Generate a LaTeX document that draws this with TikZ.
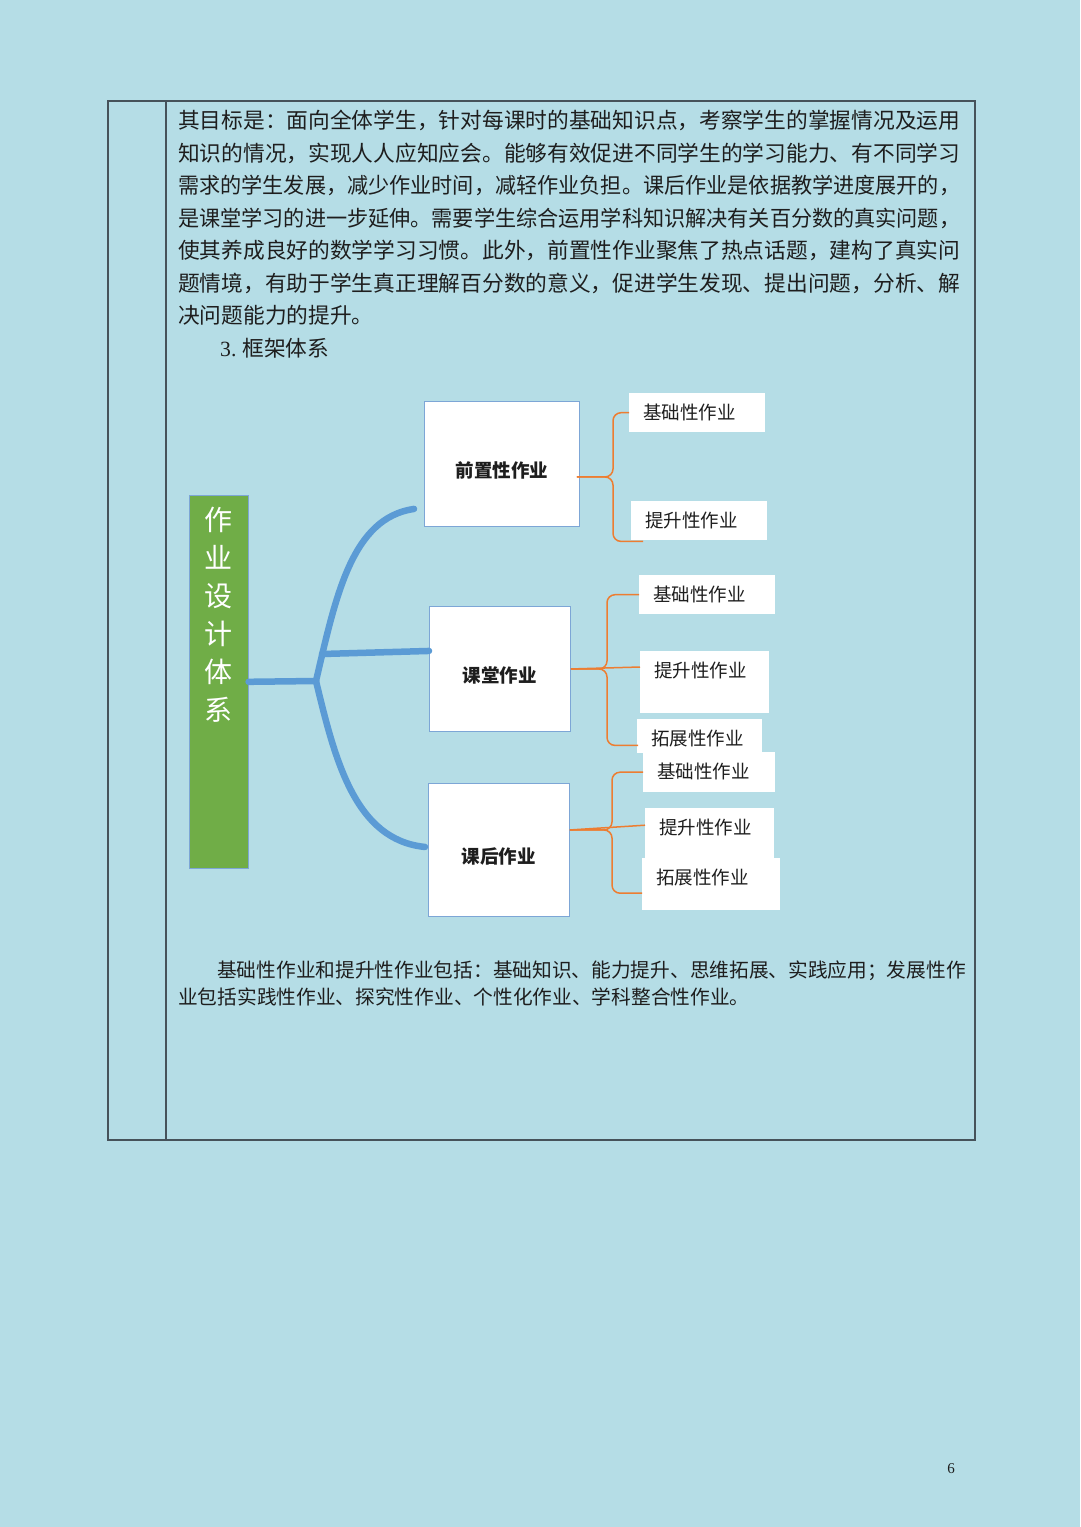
\documentclass[tikz,border=0pt]{standalone}
\usepackage{fontspec}
\setmainfont{Liberation Serif}
\newfontfamily\cjk{Noto Sans CJK SC}
\usepackage{graphicx}
\usetikzlibrary{calc}
\definecolor{pageblue}{RGB}{181,221,230}
\definecolor{rulegray}{RGB}{70,82,90}
\definecolor{inkgray}{RGB}{30,30,30}
\definecolor{rootgreen}{RGB}{112,173,71}
\definecolor{trunkblue}{RGB}{91,155,213}
\definecolor{boxblue}{RGB}{125,166,214}
\definecolor{forkorange}{RGB}{237,125,49}
\newcommand{\txtline}[3]{\node[bodytext] (#1) at (178,#2) {\resizebox{782pt}{\height}{#3}};}
\newcommand{\prong}[3]{\draw[forkline] (#1) -- (#2 |- #1) -- (#2 |- #3) -- (#3);}
\tikzset{
  bodytext/.style={anchor=west, inner sep=0pt, text=inkgray, font=\cjk\fontsize{21.7}{26}\selectfont},
  lowtext/.style={anchor=west, inner sep=0pt, text=inkgray, font=\cjk\fontsize{19.7}{24}\selectfont},
  rulebox/.style={draw=rulegray, line width=1.2pt},
  mainbox/.style={draw=boxblue, fill=white, line width=0.9pt, anchor=north west, inner sep=0pt,
    text=inkgray, font=\cjk\bfseries\fontsize{18.5}{22}\selectfont, text height=28pt, text depth=0pt},
  leaf/.style 2 args={fill=white, anchor=north west, inner xsep=14pt, inner ysep=0pt, align=left,
    text=inkgray, font=\cjk\fontsize{18.5}{22}\selectfont, text height=26pt, text width=#1, text depth=#2},
  rootbox/.style={fill=rootgreen, draw=boxblue, line width=0.6pt, anchor=north west, inner sep=0pt,
    minimum width=59pt, minimum height=373pt},
  rootlabel/.style={anchor=north, inner sep=0pt, text=white, align=center, font=\cjk\fontsize{28}{38}\selectfont},
  trunk/.style={draw=trunkblue, line width=6.5pt, line cap=round},
  forkline/.style={draw=forkorange, line width=1.5pt, rounded corners=8pt},
}
\begin{document}
\begin{tikzpicture}[x=1pt,y=-1pt]
    \fill[pageblue] (0,0) rectangle (1080,1527);

    % table frame
    \draw[rulebox] (108,101) rectangle (975,1140);
    \draw[rulebox] (166,101) -- (166,1140);

    \txtline{goal1}{120.5}{其目标是：面向全体学生，针对每课时的基础知识点，考察学生的掌握情况及运用}
    \txtline{goal2}{153}{知识的情况，实现人人应知应会。能够有效促进不同学生的学习能力、有不同学习}
    \txtline{goal3}{185.5}{需求的学生发展，减少作业时间，减轻作业负担。课后作业是依据教学进度展开的，}
    \txtline{goal4}{218}{是课堂学习的进一步延伸。需要学生综合运用学科知识解决有关百分数的真实问题，}
    \txtline{goal5}{250.5}{使其养成良好的数学学习习惯。此外，前置性作业聚焦了热点话题，建构了真实问}
    \txtline{goal6}{283}{题情境，有助于学生真正理解百分数的意义，促进学生发现、提出问题，分析、解}
    \node[bodytext] (goal7) at (178,315.5) {决问题能力的提升。};
    \node[bodytext] (heading) at (220,348) {{\rmfamily 3.}\hspace{6pt}框架体系};

    % diagram
    \node[rootbox] (root) at (189,495) {};
    \node[rootlabel] (roottitle) at ($(root.north)+(0,12)$) {作\\业\\设\\计\\体\\系};

    \node[mainbox, minimum width=155pt, minimum height=125pt] (pre) at (424,401) {前置性作业};
    \node[mainbox, minimum width=141pt, minimum height=125pt] (cls) at (429,606) {课堂作业};
    \node[mainbox, minimum width=141pt, minimum height=133pt] (post) at (428,783) {课后作业};

    \node[leaf={108pt}{13pt}] (b1) at (629,393) {基础性作业};
    \node[leaf={108pt}{13pt}] (u1) at (631,501) {提升性作业};
    \node[leaf={108pt}{13pt}] (b2) at (639,575) {基础性作业};
    \node[leaf={101pt}{36pt}] (u2) at (640,651) {提升性作业};
    \node[leaf={97pt}{8pt}] (e2) at (637,719) {拓展性作业};
    \node[leaf={104pt}{14pt}] (b3) at (643,752) {基础性作业};
    \node[leaf={101pt}{24pt}] (u3) at (645,808) {提升性作业};
    \node[leaf={110pt}{26pt}] (e3) at (642,858) {拓展性作业};

    \coordinate (J) at (316,681);
    \draw[trunk] (root.east) -- (J);
    \draw[trunk] (J) .. controls (336,595) and (352,518) .. ($(pre.south west)+(-10,-18)$);
    \coordinate (clsfork) at (322,654);
    \draw[trunk] (clsfork) -- ($(cls.west)+(0,-18)$);
    \draw[trunk] (J) .. controls (335,760) and (355,840) .. ($(post.west)+(-3,-3)$);

    % braces
    \coordinate (k1) at ($(pre.east)+(-3,13)$);
    \coordinate (s1) at (613,0);
    \coordinate (d1) at ($(u1.south west)+(12,1)$);
    \prong{k1}{s1}{b1.west}
    \prong{k1}{s1}{d1}

    \coordinate (k2) at (cls.east);
    \coordinate (s2) at (607,0);
    \coordinate (m2) at ($(u2.north west)+(0,16)$);
    \coordinate (d2) at ($(e2.south west)+(1,-8)$);
    \prong{k2}{s2}{b2.west}
    \draw[forkline] (k2) -- (m2);
    \prong{k2}{s2}{d2}

    \coordinate (k3) at ($(post.east)+(0,-20)$);
    \coordinate (s3) at (612,0);
    \coordinate (m3) at ($(u3.west)+(0,-8)$);
    \coordinate (d3) at ($(e3.west)+(0,9)$);
    \prong{k3}{s3}{b3.west}
    \draw[forkline] (k3) -- (m3);
    \prong{k3}{s3}{d3}

    \node[lowtext] (summary1) at (217,971) {基础性作业和提升性作业包括：基础知识、能力提升、思维拓展、实践应用；发展性作};
    \node[lowtext] (summary2) at (178,997) {业包括实践性作业、探究性作业、个性化作业、学科整合性作业。};

    \node[inner sep=0pt, text=inkgray, font=\fontsize{15}{18}\selectfont] (pageno) at (951,1469) {6};
\end{tikzpicture}
\end{document}
